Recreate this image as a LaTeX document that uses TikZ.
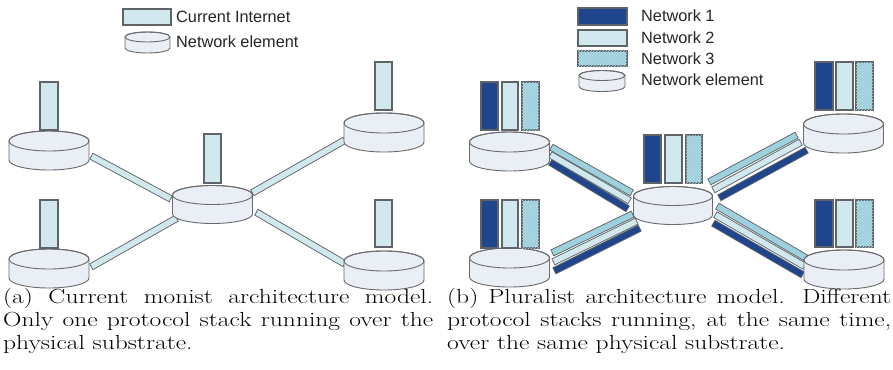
\documentclass[tikz,border=0pt]{standalone}
\usepackage{fontspec}
\usepackage{graphicx}
\newfontfamily\legendfont{Liberation Sans}
\usetikzlibrary{patterns}
\definecolor{cylfill}{RGB}{234,238,245}
\definecolor{cylline}{RGB}{105,105,110}
\definecolor{netA}{RGB}{31,70,140}
\definecolor{netB}{RGB}{208,232,238}
\definecolor{netC}{RGB}{158,208,222}
\definecolor{barline}{RGB}{95,100,105}
\tikzset{
  cyl/.style={fill=cylfill, draw=cylline, line width=0.9},
  stackbox/.style={draw=barline, line width=1.1},
  hatchC/.style={postaction={pattern=north east lines, pattern color=netC!78!white}},
  legendtext/.style={anchor=west, inner sep=0, font=\legendfont\fontsize{16.3}{18}\selectfont, text=black!85},
  captext/.style={inner sep=0, anchor=north west},
}
% name, cx, ty, rx, ry, h
\newcommand\netelem[6]{%
  \path[cyl] (#2-#4,#3) -- (#2-#4,#3+#6) arc[start angle=180,end angle=0,x radius=#4,y radius=#5]
     -- (#2+#4,#3) arc[start angle=0,end angle=-180,x radius=#4,y radius=#5] -- cycle;
  \draw[cyl, fill=none] (#2,#3) ellipse[x radius=#4, y radius=#5];
  \coordinate (#1) at (#2,#3+#6/2);
}
\newcommand\stk[5]{\draw[stackbox, fill=#1] (#2,#3) rectangle (#4,#5);}
\newcommand\stkC[4]{\draw[stackbox, fill=netC, hatchC] (#1,#2) rectangle (#3,#4);}
% colour, start, end
\newcommand\linkbar[3]{%
  \draw[line width=7.4, draw=barline] (#2) -- (#3);
  \draw[line width=5.6, draw=#1, shorten <=0.9, shorten >=0.9] (#2) -- (#3);
}
\newcommand\captionfont{\fontsize{25.5}{28.75}\selectfont\hyphenpenalty=10000\relax}
\begin{document}
\begin{tikzpicture}[x=1pt,y=-1pt]
\useasboundingbox (0,0) rectangle (893,369);
\fill[white] (0,0) rectangle (893,369);

% ---------- (a) legend
\stk{netB}{123}{9}{171}{25}
\node[legendtext] (lgAtxt1) at (176,17) {Current Internet};
\netelem{lgAcyl}{147.5}{37}{22.5}{5}{11}
\node[legendtext] (lgAtxt2) at (176,42) {Network element};

% ---------- (a) links
\coordinate (a1s) at (91,156);  \coordinate (a1e) at (171,199);
\coordinate (a2s) at (252,193); \coordinate (a2e) at (345,140);
\coordinate (a3s) at (91,267);  \coordinate (a3e) at (177,218);
\coordinate (a4s) at (256,212); \coordinate (a4e) at (345,264);
\linkbar{netB}{a1s}{a1e}
\linkbar{netB}{a2s}{a2e}
\linkbar{netB}{a3s}{a3e}
\linkbar{netB}{a4s}{a4e}

% ---------- (a) network elements
\netelem{aTL}{49}{141}{40}{10}{19}
\netelem{aC}{212.5}{195}{40}{9.5}{19}
\netelem{aTR}{384}{123}{40}{10}{19}
\netelem{aBL}{49}{259}{40}{10}{19}
\netelem{aBR}{384}{261}{40}{10}{19}
\stk{netB}{40}{82}{58}{130}
\stk{netB}{204}{134}{221}{183}
\stk{netB}{375}{62}{392}{110}
\stk{netB}{40}{200}{58}{248}
\stk{netB}{375}{200}{392}{247}

% ---------- (b) legend
\stk{netA}{578}{8}{627}{25}
\stk{netB}{578}{30}{627}{46}
\stkC{578}{51}{627}{66}
\netelem{lgBcyl}{602}{75.5}{23}{5}{11}
\node[legendtext] (lgBtxt1) at (641,16) {Network 1};
\node[legendtext] (lgBtxt2) at (641,38) {Network 2};
\node[legendtext] (lgBtxt3) at (641,59) {Network 3};
\node[legendtext] (lgBtxt4) at (641,80) {Network element};

% ---------- (b) links
\coordinate (b1cs) at (551,147); \coordinate (b1ce) at (632,193);
\coordinate (b1bs) at (550,154.5); \coordinate (b1be) at (630,201);
\coordinate (b1as) at (550,162); \coordinate (b1ae) at (628,209);
\coordinate (b2cs) at (709,182); \coordinate (b2ce) at (797,135);
\coordinate (b2bs) at (713,190); \coordinate (b2be) at (801,142);
\coordinate (b2as) at (719,198); \coordinate (b2ae) at (807,150);
\coordinate (b3cs) at (552,253); \coordinate (b3ce) at (633,214);
\coordinate (b3bs) at (553,262); \coordinate (b3be) at (637,221);
\coordinate (b3as) at (554,271); \coordinate (b3ae) at (640,228);
\coordinate (b4cs) at (717,206); \coordinate (b4ce) at (806,258);
\coordinate (b4bs) at (715,214.5); \coordinate (b4be) at (805,266.5);
\coordinate (b4as) at (713,223); \coordinate (b4ae) at (803,275);
\linkbar{netA}{b1as}{b1ae}\linkbar{netB}{b1bs}{b1be}\linkbar{netC}{b1cs}{b1ce}
\linkbar{netA}{b2as}{b2ae}\linkbar{netB}{b2bs}{b2be}\linkbar{netC}{b2cs}{b2ce}
\linkbar{netA}{b3as}{b3ae}\linkbar{netB}{b3bs}{b3be}\linkbar{netC}{b3cs}{b3ce}
\linkbar{netA}{b4as}{b4ae}\linkbar{netB}{b4bs}{b4be}\linkbar{netC}{b4cs}{b4ce}

% ---------- (b) network elements
\netelem{bTL}{509.5}{142}{40}{10}{19}
\netelem{bC}{673}{196}{39.5}{9.5}{19}
\netelem{bTR}{843.5}{124}{40}{10}{19}
\netelem{bBL}{509.5}{258}{40}{10}{19}
\netelem{bBR}{844}{260}{40}{10}{19}
% stacks
\stk{netA}{481}{82}{498}{130}\stk{netB}{502}{82}{518}{130}\stkC{522}{82}{539}{130}
\stk{netA}{644}{135}{661}{183}\stk{netB}{665}{135}{682}{183}\stkC{686}{135}{702}{183}
\stk{netA}{815}{62}{833}{110}\stk{netB}{836}{62}{853}{110}\stkC{856}{62}{873}{110}
\stk{netA}{481}{200}{498}{248}\stk{netB}{502}{200}{518}{248}\stkC{522}{200}{539}{248}
\stk{netA}{815}{200}{833}{247}\stk{netB}{836}{200}{853}{247}\stkC{856}{200}{873}{247}

% ---------- captions
\node[captext] (capA) at (3,288) {\scalebox{1}[0.8]{\parbox[t]{430pt}{\captionfont (a) Current monist architecture model. Only one protocol stack running over the physical substrate.}}};
\node[captext] (capB) at (447,288) {\scalebox{1}[0.8]{\parbox[t]{444pt}{\captionfont (b) Pluralist architecture model. Different protocol stacks running, at the same time, over the same physical substrate.}}};
\end{tikzpicture}
\end{document}
